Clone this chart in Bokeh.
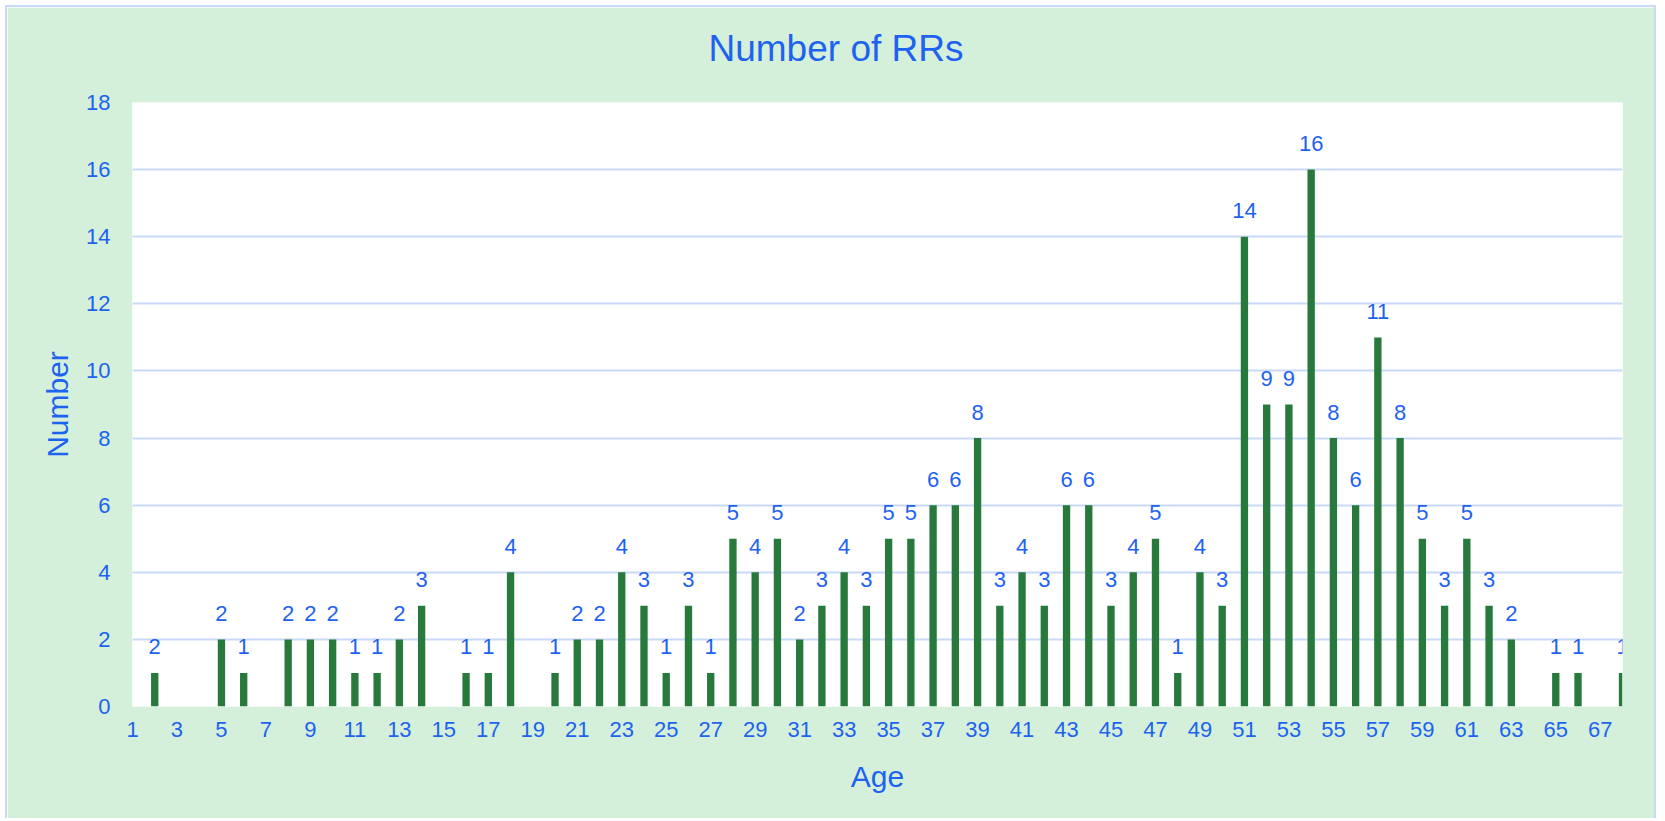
from bokeh.plotting import figure
from bokeh.models import ColumnDataSource, FixedTicker, Range1d, Title
from bokeh.embed import file_html
from bokeh.resources import INLINE
from bokeh.core.properties import value

# ---- data ----
ages = list(range(1, 69))
counts = [0, 1, 0, 0, 2, 1, 0, 2, 2, 2,
          1, 1, 2, 3, 0, 1, 1, 4, 0, 1,
          2, 2, 4, 3, 1, 3, 1, 5, 4, 5,
          2, 3, 4, 3, 5, 5, 6, 6, 8, 3,
          4, 3, 6, 6, 3, 4, 5, 1, 4, 3,
          14, 9, 9, 16, 8, 6, 11, 8, 5, 3,
          5, 3, 2, 0, 1, 1, 0, 1]
label_override = {2: "2"}   # label shown in the source chart above the age-2 bar
x_tick_values = list(range(1, 69, 2))
y_tick_values = list(range(0, 19, 2))
title_text = "Number of RRs"
x_title = "Age"
y_title = "Number"

BLUE = "#1E62F0"
GREEN = "#277A3B"
BG = "#D4F0DA"
GRID = "#C9DAF8"
FONT = "Liberation Sans"

src = ColumnDataSource(dict(x=ages, top=counts))
lab_x = [a for a, c in zip(ages, counts) if c > 0]
lab_y = [c for c in counts if c > 0]
lab_t = [label_override.get(a, str(c)) for a, c in zip(ages, counts) if c > 0]
lab_src = ColumnDataSource(dict(x=lab_x, y=lab_y, t=lab_t))

p = figure(width=1651, height=813, output_backend="svg", toolbar_location=None,
           x_range=Range1d(1, 68), y_range=Range1d(0, 18),
           min_border_left=125, min_border_right=36, min_border_top=95, min_border_bottom=114,
           background_fill_color="white", border_fill_color=BG,
           styles={"border": "2px solid #C9DAF8", "border-bottom": "none",
                   "margin": "5px 0 0 5px"})
p.outline_line_color = None

# spacer between frame and title (closest to the frame), then the title itself
p.add_layout(Title(text=" ", text_font_size="1px", standoff=31, text_color=BG), "above")
p.add_layout(Title(text=title_text, align="left", offset=576, standoff=0,
                   text_font=FONT, text_font_size="37px", text_color=BLUE,
                   text_font_style="normal"), "above")

p.vbar(x="x", top="top", width=0.33, source=src, fill_color=GREEN, line_color=None)
p.text(x="x", y="y", text="t", source=lab_src, text_align="center",
       text_baseline="alphabetic", y_offset=-26, text_font=value(FONT),
       text_font_size="22px", text_color=BLUE)

for ax in (p.xaxis[0], p.yaxis[0]):
    ax.axis_line_color = None
    ax.major_tick_line_color = None
    ax.minor_tick_line_color = None
    ax.major_label_text_font = FONT
    ax.major_label_text_font_size = "22px"
    ax.major_label_text_color = BLUE
    ax.axis_label_text_font = FONT
    ax.axis_label_text_font_size = "30px"
    ax.axis_label_text_color = BLUE
    ax.axis_label_text_font_style = "normal"

p.xaxis.ticker = FixedTicker(ticks=x_tick_values)
p.yaxis.ticker = FixedTicker(ticks=y_tick_values)
p.xaxis.axis_label = x_title
p.yaxis.axis_label = y_title
p.xaxis.major_label_standoff = 9
p.xaxis.axis_label_standoff = 20
p.yaxis.major_label_standoff = 16
p.yaxis.axis_label_standoff = 9

p.xgrid.grid_line_color = None
p.ygrid.grid_line_color = GRID
p.ygrid.grid_line_width = 2
p.ygrid.ticker = FixedTicker(ticks=y_tick_values)

open("out.html", "w").write(file_html(p, INLINE))
